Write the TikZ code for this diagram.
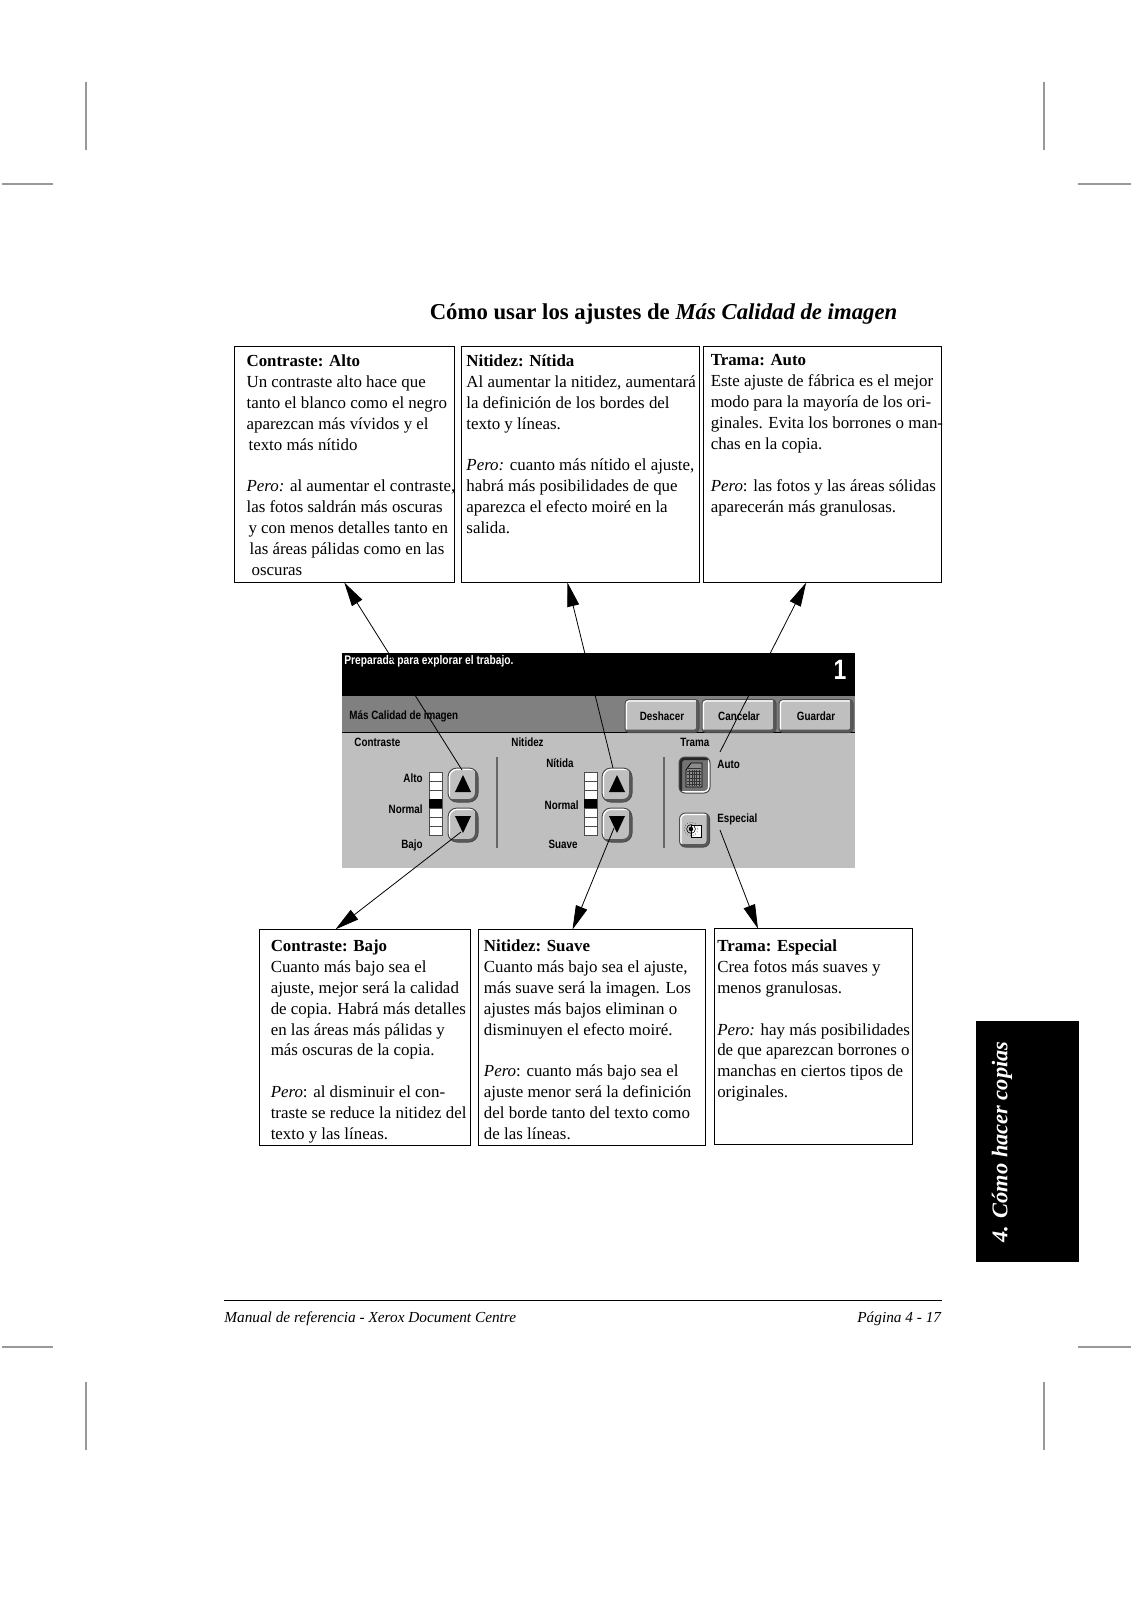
\documentclass[tikz,border=0pt]{standalone}
\usepackage{fontspec}
\setmainfont{Liberation Serif}
\newfontfamily\panelfont[FakeStretch=0.82]{Liberation Sans}
\usetikzlibrary{arrows.meta}
\definecolor{grisclaro}{gray}{0.75}
\definecolor{grisbarra}{gray}{0.50}
\definecolor{grismarca}{gray}{0.60}
\newcommand{\cuerpo}{\fontsize{8.45}{10.45}\selectfont}
\newcommand{\caja}[5]{\parbox[t][#2][t]{#1}{\cuerpo\leftskip=#3\rightskip=-15pt plus 1fil\parindent=0pt\vspace*{#4}#5}}
\tikzset{
  x=0.5pt, y=-0.5pt,
  cuadro/.style = {draw=black, line width=0.55pt, anchor=north west, inner sep=0pt, fill=white},
  flecha/.style = {line width=0.4pt, -{Triangle[length=12pt, width=6pt]}, shorten >=-0.3pt},
  marca/.style  = {grismarca, line width=0.6pt},
  et/.style     = {font=\panelfont\bfseries\fontsize{6}{7}\selectfont, inner sep=0pt, black},
  boton/.style  = {draw=black!70, line width=0.5pt, fill=grisclaro, inner sep=0pt, rounded corners=2pt,
    path picture={
      \draw[white, line width=2pt] (path picture bounding box.south west) -- (path picture bounding box.north west) -- (path picture bounding box.north east);
      \draw[black!65, line width=3pt] (path picture bounding box.south west) -- (path picture bounding box.south east) -- (path picture bounding box.north east);
    }},
  hundido/.style = {draw=black!70, line width=0.5pt, fill=black!55, inner sep=0pt,
    path picture={
      \draw[black!85, line width=3pt] (path picture bounding box.south west) -- (path picture bounding box.north west) -- (path picture bounding box.north east);
      \draw[white, line width=2pt] (path picture bounding box.south west) -- (path picture bounding box.south east) -- (path picture bounding box.north east);
    }},
  tecla/.style  = {boton, minimum width=37pt, minimum height=16.5pt, font=\panelfont\bfseries\fontsize{6}{7}\selectfont},
  flechita/.style = {boton, minimum width=15pt, minimum height=17pt, rounded corners=4.5pt}
}
\begin{document}
\begin{tikzpicture}
  \useasboundingbox (0,0) rectangle (1131,1600);
  % marcas de corte
  \foreach \cx in {86,1044}{
    \draw[marca] (\cx,82)--(\cx,150); \draw[marca] (\cx,1382)--(\cx,1450);
  }
  \foreach \cy in {184,1347}{
    \draw[marca] (2,\cy)--(53,\cy); \draw[marca] (1078,\cy)--(1131,\cy);
  }
  \node[inner sep=0pt, font=\bfseries\fontsize{11.37}{14}\selectfont] (titulo) at (663.5,314) {Cómo usar los ajustes de \textit{Más Calidad de imagen}};

  % cuadros de arriba
  \node[cuadro] (cA) at (234,346) {\caja{110.1pt}{118pt}{6pt}{4.1pt}{\textbf{Contraste: Alto}\\
    Un contraste alto hace que\\ tanto el blanco como el negro\\ aparezcan más vívidos y el\\ \hspace*{1pt}texto más nítido\\[\baselineskip]
    \textit{Pero:} al aumentar el contraste,\\ las fotos saldrán más oscuras\\ \hspace*{1pt}y con menos detalles tanto en\\ \hspace*{1.5pt}las áreas pálidas como en las\\ \hspace*{2.5pt}oscuras}};
  \node[cuadro] (cB) at (460.5,346) {\caja{119pt}{118pt}{2.7pt}{4.1pt}{\textbf{Nitidez: Nítida}\\
    Al aumentar la nitidez, aumentará\\ la definición de los bordes del\\ texto y líneas.\\[\baselineskip]
    \textit{Pero:} cuanto más nítido el ajuste,\\ habrá más posibilidades de que\\ aparezca el efecto moiré en la\\ salida.}};
  \node[cuadro] (cC) at (703,346) {\caja{119pt}{118pt}{3.6pt}{4.1pt}{\textbf{Trama: Auto}\\
    Este ajuste de fábrica es el mejor\\ modo para la mayoría de los ori-\\ ginales. Evita los borrones o man-\\ chas en la copia.\\[\baselineskip]
    \textit{Pero}: las fotos y las áreas sólidas\\ aparecerán más granulosas.}};
  % cuadros de abajo
  \node[cuadro] (cD) at (259,929) {\caja{105.5pt}{108pt}{5.6pt}{5.1pt}{\textbf{Contraste: Bajo}\\
    Cuanto más bajo sea el\\ ajuste, mejor será la calidad\\ de copia. Habrá más detalles\\ en las áreas más pálidas y\\ más oscuras de la copia.\\[\baselineskip]
    \textit{Pero}: al disminuir el con-\\ traste se reduce la nitidez del\\ texto y las líneas.}};
  \node[cuadro] (cE) at (478,929) {\caja{113.3pt}{108pt}{2.7pt}{5.1pt}{\textbf{Nitidez: Suave}\\
    Cuanto más bajo sea el ajuste,\\ más suave será la imagen. Los\\ ajustes más bajos eliminan o\\ disminuyen el efecto moiré.\\[\baselineskip]
    \textit{Pero}: cuanto más bajo sea el\\ ajuste menor será la definición\\ del borde tanto del texto como\\ de las líneas.}};
  \node[cuadro] (cF) at (713.5,928) {\caja{99pt}{108pt}{1.6pt}{5.6pt}{\textbf{Trama: Especial}\\
    Crea fotos más suaves y\\ menos granulosas.\\[\baselineskip]
    \textit{Pero:} hay más posibilidades\\ de que aparezcan borrones o\\ manchas en ciertos tipos de\\ originales.}};

  % pantalla
  \fill[grisclaro] (342,653) rectangle (855,868);
  \fill[grisbarra] (342,696) rectangle (855,732);
  \draw[black, line width=0.5pt] (342,732)--(855,732);
  \fill[black] (342,653) rectangle (855,696);
  \node[et, white, anchor=west, font=\panelfont\bfseries\fontsize{6.25}{7}\selectfont] (estado) at (344,661.5) {Preparada para explorar el trabajo.};
  \node[et, white, font=\panelfont\bfseries\fontsize{14}{15}\selectfont] (copias) at (840,670) {1};
  \node[et, anchor=west] (barra) at (349,716) {Más Calidad de imagen};
  \node[tecla] (deshacer) at (662,716) {Deshacer};
  \node[tecla] (cancelar) at (739,716) {Cancelar};
  \node[tecla] (guardar)  at (816,716) {Guardar};
  \node[et, anchor=west] (lContraste) at (354,742) {Contraste};
  \node[et, anchor=west] (lNitidez)   at (511,742) {Nitidez};
  \node[et, anchor=west] (lTrama)     at (680,742) {Trama};
  \node[et, anchor=east] (lAlto)    at (423,778) {Alto};
  \node[et, anchor=east] (lNormalA) at (423,809) {Normal};
  \node[et, anchor=east] (lBajo)    at (423,845) {Bajo};
  \node[et, anchor=east] (lNitida)  at (574,763) {Nítida};
  \node[et, anchor=east] (lNormalB) at (579,805) {Normal};
  \node[et, anchor=east] (lSuave)   at (578,844) {Suave};
  \node[et, anchor=west] (lAuto)     at (717,764) {Auto};
  \node[et, anchor=west] (lEspecial) at (717,819) {Especial};
  \draw[black!60, line width=0.7pt] (497,757)--(497,848);
  \draw[black!60, line width=0.7pt] (664,757)--(664,848);
  % escalas y flechas de ajuste
  \foreach \ex/\bx/\nm in {429/463/A, 584/617/B}{
    \foreach \i in {0,...,6}
      \draw[black!70, fill=white, line width=0.4pt] (\ex,772+9*\i) rectangle (\ex+13,781+9*\i);
    \fill[black] (\ex,799) rectangle (\ex+13,808);
    \node[flechita] (sube\nm) at (\bx,785) {};
    \node[flechita] (baja\nm) at (\bx,825) {};
    \fill[black] (\bx,775)--(\bx+8,792)--(\bx-8,792)--cycle;
    \fill[black] (\bx,833)--(\bx+8,816)--(\bx-8,816)--cycle;
  }
  % botones de trama
  \node[hundido, minimum width=15.5pt, minimum height=18pt, rounded corners=3pt] (bAuto) at (694.5,775) {};
  \fill[black!45, draw=black] (691,763)--(702,763)--(702,787)--(686,787)--(686,770)--cycle;
  \foreach \i in {1,...,6} \draw[black!80, line width=0.2pt] (687,765+3.2*\i)--(701,765+3.2*\i);
  \foreach \i in {1,...,5} \draw[black!80, line width=0.2pt] (687+2.4*\i,770)--(687+2.4*\i,786);
  \node[boton, minimum width=15pt, minimum height=17pt, rounded corners=3pt] (bEspecial) at (694.5,830) {};
  \draw[black, fill=white, line width=0.4pt] (691,825) rectangle (701,837);
  \draw[black!60, densely dotted, line width=0.4pt] (691,829) circle[radius=3.4pt];
  \draw[black, line width=0.3pt] (691,829) circle[radius=2.2pt];
  \fill[black] (691,829) circle[radius=1.1pt];

  % conectores
  \coordinate (oA) at (462,770); \coordinate (oB) at (613,768); \coordinate (oC) at (720,752);
  \coordinate (oD) at (461,832); \coordinate (oE) at (614,828); \coordinate (oF) at (720,830);
  \draw[flecha] (oA)--(cA.-90);
  \draw[flecha] (oB)--(cB.-96.3);
  \draw[flecha] (oC)--(cC.-98.2);
  \draw[flecha] (oD)--(cD.105);
  \draw[flecha] (oE)--(cE.100);
  \draw[flecha] (oF)--(cF.117.4);

  % pestana y pie
  \fill[black] (975.5,1021) rectangle (1079,1262);
  \node[rotate=90, white, inner sep=0pt, font=\bfseries\itshape\fontsize{11.2}{14}\selectfont] (pestana) at (1002,1142) {4. Cómo hacer copias};
  \draw[black, line width=0.5pt] (224,1300)--(941.5,1300);
  \node[anchor=west, inner sep=0pt, font=\itshape\fontsize{7.65}{9}\selectfont] (pieA) at (224,1319) {Manual de referencia - Xerox Document Centre};
  \node[anchor=east, inner sep=0pt, font=\itshape\fontsize{7.65}{9}\selectfont] (pieB) at (941.5,1319) {Página 4 - 17};
\end{tikzpicture}
\end{document}
